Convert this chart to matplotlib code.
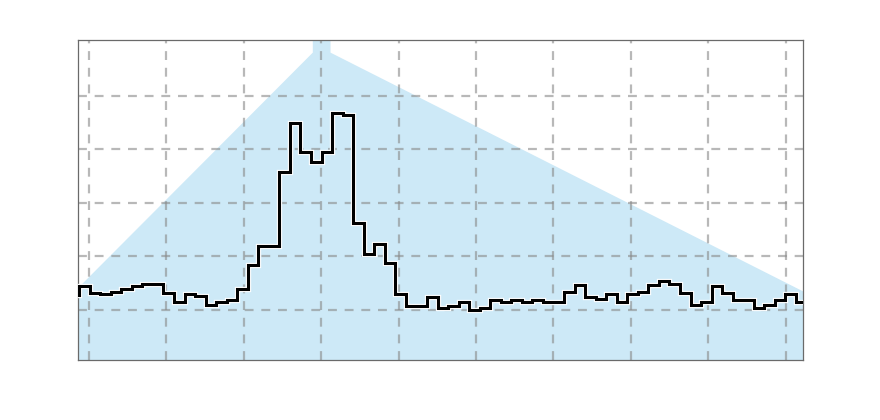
import numpy as np
import matplotlib
matplotlib.use("Agg")
import matplotlib.pyplot as plt
import matplotlib.patheffects as pe

# step series, one value per bin (first one is only a sliver at the left edge)
counts = [1.28,
          1.45, 1.32, 1.30, 1.34, 1.39, 1.44, 1.49, 1.49, 1.32, 1.14,
          1.30, 1.26, 1.10, 1.14, 1.19, 1.39, 1.84, 2.20, 2.20, 3.57,
          4.50, 3.95, 3.76, 3.95, 4.69, 4.65, 2.63, 2.05, 2.23, 1.88,
          1.30, 1.08, 1.08, 1.24, 1.04, 1.08, 1.15, 1.00, 1.04, 1.19,
          1.14, 1.19, 1.14, 1.19, 1.15, 1.15, 1.33, 1.47, 1.24, 1.20,
          1.29, 1.14, 1.29, 1.34, 1.47, 1.54, 1.49, 1.31, 1.10, 1.15,
          1.44, 1.32, 1.19, 1.19, 1.04, 1.09, 1.19, 1.29, 1.14]
edges = np.arange(-1, len(counts))

# light blue envelope behind the steps
env_x = [-1.0, 22.12, 22.12, 23.80, 23.80, 69.0]
env_y = [1.25, 5.82, 6.60, 6.60, 5.82, 1.32]

xgrid = [0.934 + 7.343 * k for k in range(10)]
ygrid = [1, 2, 3, 4, 5]

fig = plt.figure(figsize=(8.8, 4.2), dpi=100)
ax = fig.add_axes([0.0892, 0.1429, 0.8233, 0.7619])

ax.fill_between(env_x, env_y, 0, color="#cde9f7", linewidth=0, zorder=1)
ax.stairs(counts, edges, color="black", linewidth=2.2, zorder=3,
          path_effects=[pe.Stroke(linewidth=3.8, foreground="white"), pe.Normal()])

ax.set_xlim(-0.06, 68.67)
ax.set_ylim(0.065, 6.047)
ax.set_xticks(xgrid)
ax.set_yticks(ygrid)
ax.tick_params(length=0, labelbottom=False, labelleft=False)
ax.grid(True, color="#8a8a8a", alpha=0.6, linewidth=1.6, linestyle=(0, (4, 3.5)))

for s in ax.spines.values():
    s.set_color("#6a6a6a")
    s.set_linewidth(0.9)

fig.savefig("out.png", dpi=100)
